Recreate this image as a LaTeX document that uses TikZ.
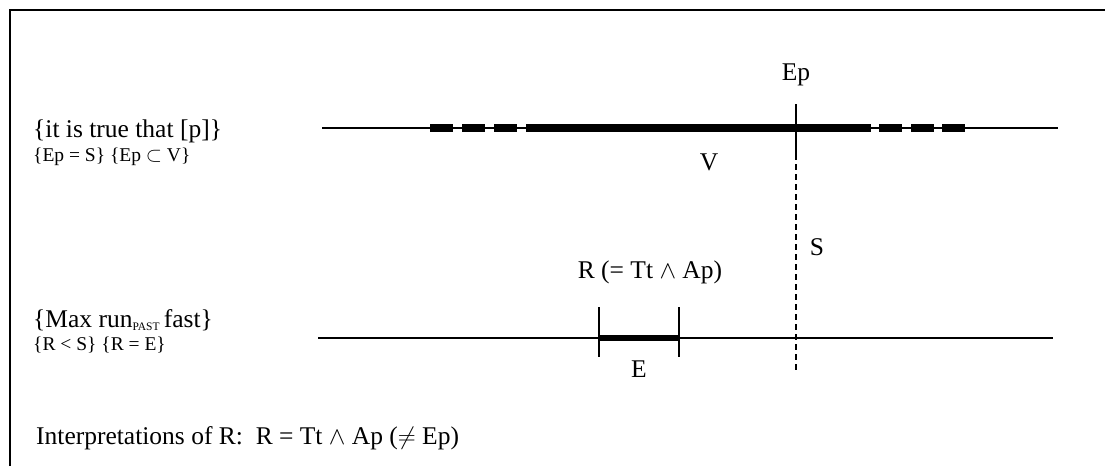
\documentclass[tikz,border=0pt]{standalone}
\usepackage{fontspec}
\setmainfont{Liberation Serif}
\begin{document}
\begin{tikzpicture}[x=1pt,y=-1pt,
  thin line/.style={line width=1.8},
  thick bar/.style={line width=7.5},
  tick/.style={line width=2.4},
  lbl/.style={inner sep=0pt, font=\fontsize{25.5}{28}\selectfont},
  small/.style={inner sep=0pt, font=\fontsize{19.5}{22}\selectfont},
  vdash/.style={line width=1.8, dash pattern=on 6 off 4}]
\useasboundingbox (0,0) rectangle (1105,466);
% frame
\draw[line width=2.2] (10,466) -- (10,10) -- (1105,10);
% left texts
\node[lbl, anchor=west] (t1) at (33,131) {\{it is true that [p]\}};
\node[small, anchor=west] (t2) at (33,157) {\{Ep = S\} \{Ep $\subset$ V\}};
\node[lbl, anchor=west] (t3) at (33,320) {\{Max run\raisebox{-0.3ex}{\fontsize{11.5}{12}\selectfont PAST}\,fast\}};
\node[small, anchor=west] (t4) at (33,345) {\{R < S\} \{R = E\}};
\node[lbl, anchor=west] (t5) at (36,438) {Interpretations of R:\ \ R = Tt $\wedge$ Ap ($\neq$ Ep)};
% top timeline
\coordinate (a1) at (322,128);
\coordinate (a2) at (1058,128);
\draw[thin line] (a1) -- (a2);
\coordinate (v1) at (549,128);
\coordinate (v2) at (848,128);
\draw[thick bar] (v1) -- (v2);
\foreach \s in {430,462,494,526,848,879,911,942}
  \draw[thick bar] (\s,128) -- (\s+23,128);
% Ep tick and S dashed line
\coordinate (ep1) at (796,104);
\coordinate (ep2) at (796,154);
\coordinate (s2) at (796,370);
\draw[tick] (ep1) -- (ep2);
\draw[vdash] (ep2) -- (s2);
\node[lbl] (ep) at (796,75) {Ep};
\node[lbl] (v) at (709,162) {V};
\node[lbl] (s) at (817,247) {S};
% bottom timeline
\coordinate (b1) at (318,338);
\coordinate (b2) at (1053,338);
\draw[thin line] (b1) -- (b2);
\coordinate (e1) at (599,338);
\coordinate (e2) at (679,338);
\draw[line width=6.5] (e1) -- (e2);
\draw[tick] (599,307) -- (599,357);
\draw[tick] (679,307) -- (679,357);
\node[lbl] (r) at (650,272) {R (= Tt $\wedge$ Ap)};
\node[lbl] (e) at (639,369) {E};
\end{tikzpicture}
\end{document}
